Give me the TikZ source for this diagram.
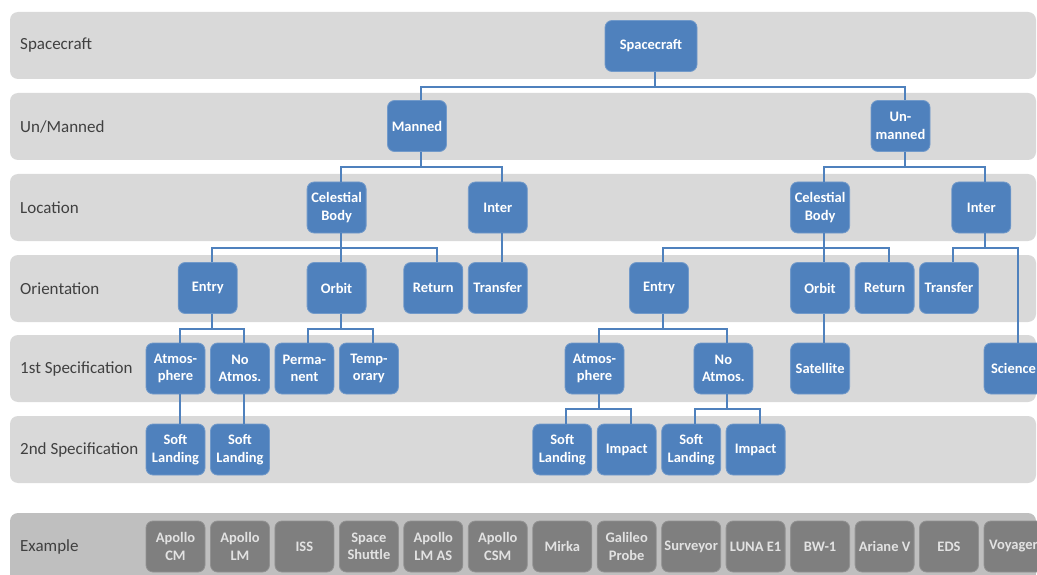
\documentclass[tikz,border=0pt]{standalone}
\usepackage{fontspec}
\setmainfont{Carlito}
\definecolor{boxblue}{HTML}{4F81BD}
\definecolor{bandgray}{HTML}{D9D9D9}
\definecolor{exband}{HTML}{BFBFBF}
\definecolor{exgray}{HTML}{7F7F7F}
\definecolor{labelgray}{HTML}{404040}
\definecolor{extext}{HTML}{E2E2E2}

\begin{document}
\begin{tikzpicture}[x=1pt, y=-1pt,
    band/.style={fill=bandgray, rounded corners=8pt},
    bandlabel/.style={anchor=west, inner sep=0pt, text=labelgray, font=\fontsize{17}{20}\selectfont},
    box/.style={fill=boxblue, draw=boxblue!80!white, line width=0.8pt, rounded corners=7pt,
        minimum width=59pt, minimum height=51pt, inner sep=1pt, align=center,
        text=white, font=\bfseries\fontsize{14.5}{17.5}\selectfont},
    exbox/.style={box, fill=exgray, draw=exgray!85!white, text=extext},
    link/.style={draw=boxblue, line width=2pt}]
        \useasboundingbox (0,0) rectangle (1037,575);
        \clip (0,0) rectangle (1037,575);
        % bands
        \fill[band] (10,12) rectangle (1036,79);
        \fill[band] (10,93) rectangle (1036,160);
        \fill[band] (10,174) rectangle (1036,241);
        \fill[band] (10,255) rectangle (1036,322);
        \fill[band] (10,335) rectangle (1036,402);
        \fill[band] (10,416) rectangle (1036,483);
        \fill[band, fill=exband] (10,513) rectangle (1036,582);
        \node[bandlabel] (lsc) at (20,45.5) {Spacecraft};
        \node[bandlabel] (lman) at (20,126.5) {Un/Manned};
        \node[bandlabel] (lloc) at (20,207.5) {Location};
        \node[bandlabel] (lori) at (20,288.5) {Orientation};
        \node[bandlabel] (lspa) at (20,368.5) {1st Specification};
        \node[bandlabel] (lspb) at (20,449.5) {2nd Specification};
        \node[bandlabel] (lex) at (20,546.5) {Example};
        % tree
        \node[box, minimum width=92pt] (sc) at (651,46) {Spacecraft};
        \node[box] (man) at (417,126) {Manned};
        \node[box] (unman) at (900.5,126) {Un-\\manned};
        \node[box] (celL) at (336.6,207.5) {Celestial\\Body};
        \node[box] (intL) at (497.8,207.5) {Inter};
        \node[box] (celR) at (820.1,207.5) {Celestial\\Body};
        \node[box] (intR) at (981.3,207.5) {Inter};
        \node[box] (entL) at (207.7,288) {Entry};
        \node[box] (orbL) at (336.6,288) {Orbit};
        \node[box] (retL) at (433.3,288) {Return};
        \node[box] (trL) at (497.8,288) {Transfer};
        \node[box] (entR) at (659,288) {Entry};
        \node[box] (orbR) at (820.1,288) {Orbit};
        \node[box] (retR) at (884.6,288) {Return};
        \node[box] (trR) at (949,288) {Transfer};
        \node[box] (atmL) at (175.5,368.5) {Atmos-\\phere};
        \node[box] (noaL) at (240,368.5) {No\\Atmos.};
        \node[box] (perm) at (304.4,368.5) {Perma-\\nent};
        \node[box] (temp) at (368.9,368.5) {Temp-\\orary};
        \node[box] (atmR) at (594.5,368.5) {Atmos-\\phere};
        \node[box] (noaR) at (723.4,368.5) {No\\Atmos.};
        \node[box] (sat) at (820.1,368.5) {Satellite};
        \node[box] (sci) at (1013.5,368.5) {Science};
        \node[box] (softA) at (175.5,449.5) {Soft\\Landing};
        \node[box] (softB) at (240,449.5) {Soft\\Landing};
        \node[box] (softC) at (562.3,449.5) {Soft\\Landing};
        \node[box] (impC) at (626.7,449.5) {Impact};
        \node[box] (softD) at (691.2,449.5) {Soft\\Landing};
        \node[box] (impD) at (755.6,449.5) {Impact};
        % examples
        \node[exbox] (exa) at (175.5,546.5) {Apollo\\CM};
        \node[exbox] (exb) at (240,546.5) {Apollo\\LM};
        \node[exbox] (exc) at (304.4,546.5) {ISS};
        \node[exbox] (exd) at (368.9,546.5) {Space\\Shuttle};
        \node[exbox] (exe) at (433.3,546.5) {Apollo\\LM AS};
        \node[exbox] (exf) at (497.8,546.5) {Apollo\\CSM};
        \node[exbox] (exg) at (562.3,546.5) {Mirka};
        \node[exbox] (exh) at (626.7,546.5) {Galileo\\Probe};
        \node[exbox] (exi) at (691.2,546.5) {Surveyor};
        \node[exbox] (exj) at (755.6,546.5) {LUNA E1};
        \node[exbox] (exk) at (820.1,546.5) {BW-1};
        \node[exbox] (exl) at (884.6,546.5) {Ariane V};
        \node[exbox] (exm) at (949,546.5) {EDS};
        \node[exbox] (exn) at (1013.5,546.5) {Voyager};
        % connectors
        \draw[link] ([xshift=4pt]sc.south) -- ++(0,15) -| ([xshift=4pt]man.north);
        \draw[link] ([xshift=4pt]sc.south) -- ++(0,15) -| ([xshift=4pt]unman.north);
        \draw[link] ([xshift=4pt]man.south) -- ++(0,15) -| ([xshift=4pt]celL.north);
        \draw[link] ([xshift=4pt]man.south) -- ++(0,15) -| ([xshift=4pt]intL.north);
        \draw[link] ([xshift=4pt]unman.south) -- ++(0,15) -| ([xshift=4pt]celR.north);
        \draw[link] ([xshift=4pt]unman.south) -- ++(0,15) -| ([xshift=4pt]intR.north);
        \draw[link] ([xshift=4pt]celL.south) -- ++(0,15) -| ([xshift=4pt]entL.north);
        \draw[link] ([xshift=4pt]celL.south) -- ++(0,15) -| ([xshift=4pt]orbL.north);
        \draw[link] ([xshift=4pt]celL.south) -- ++(0,15) -| ([xshift=4pt]retL.north);
        \draw[link] ([xshift=4pt]intL.south) -- ++(0,15) -| ([xshift=4pt]trL.north);
        \draw[link] ([xshift=4pt]celR.south) -- ++(0,15) -| ([xshift=4pt]entR.north);
        \draw[link] ([xshift=4pt]celR.south) -- ++(0,15) -| ([xshift=4pt]orbR.north);
        \draw[link] ([xshift=4pt]celR.south) -- ++(0,15) -| ([xshift=4pt]retR.north);
        \draw[link] ([xshift=4pt]intR.south) -- ++(0,15) -| ([xshift=4pt]trR.north);
        \draw[link] ([xshift=4pt]intR.south) -- ++(0,15) -| ([xshift=4pt]sci.north);
        \draw[link] ([xshift=4pt]entL.south) -- ++(0,15) -| ([xshift=4pt]atmL.north);
        \draw[link] ([xshift=4pt]entL.south) -- ++(0,15) -| ([xshift=4pt]noaL.north);
        \draw[link] ([xshift=4pt]orbL.south) -- ++(0,15) -| ([xshift=4pt]perm.north);
        \draw[link] ([xshift=4pt]orbL.south) -- ++(0,15) -| ([xshift=4pt]temp.north);
        \draw[link] ([xshift=4pt]entR.south) -- ++(0,15) -| ([xshift=4pt]atmR.north);
        \draw[link] ([xshift=4pt]entR.south) -- ++(0,15) -| ([xshift=4pt]noaR.north);
        \draw[link] ([xshift=4pt]orbR.south) -- ++(0,15) -| ([xshift=4pt]sat.north);
        \draw[link] ([xshift=4pt]atmL.south) -- ++(0,15) -| ([xshift=4pt]softA.north);
        \draw[link] ([xshift=4pt]noaL.south) -- ++(0,15) -| ([xshift=4pt]softB.north);
        \draw[link] ([xshift=4pt]atmR.south) -- ++(0,15) -| ([xshift=4pt]softC.north);
        \draw[link] ([xshift=4pt]atmR.south) -- ++(0,15) -| ([xshift=4pt]impC.north);
        \draw[link] ([xshift=4pt]noaR.south) -- ++(0,15) -| ([xshift=4pt]softD.north);
        \draw[link] ([xshift=4pt]noaR.south) -- ++(0,15) -| ([xshift=4pt]impD.north);
    \end{tikzpicture}
\end{document}
